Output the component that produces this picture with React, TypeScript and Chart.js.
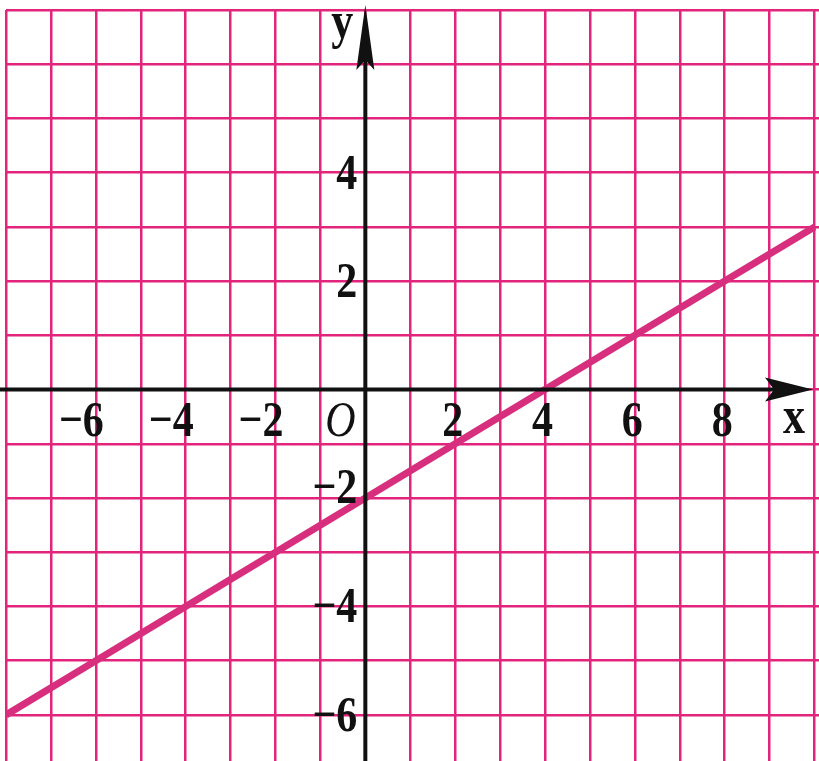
import React, { useEffect, useRef } from "react";
import { Chart, registerables } from "chart.js";

Chart.register(...registerables);

// Line data (x, y)
const lineX = [-8, -6, -4, -2, 0, 2, 4, 6, 8, 10];
const lineY = [-6, -5, -4, -3, -2, -1, 0, 1, 2, 3];

// Tick labels shown next to the axes
const xTickValues = [-6, -4, -2, 2, 4, 6, 8];
const yTickValues = [4, 2, -2, -4, -6];

// Axis ranges
const xRange = [-8, 10.1];
const yRange = [-6.85, 7];

const GRID = "rgb(226, 36, 124)";
const LINE = "rgb(216, 46, 126)";
const INK = "#111";

const fmt = (v: number) => (v < 0 ? "\u2212" + Math.abs(v) : String(v));

function drawText(ctx: CanvasRenderingContext2D, text: string, x: number, y: number, font: string, align: CanvasTextAlign) {
  ctx.save();
  ctx.translate(x, y);
  ctx.scale(1, 1.2);
  ctx.font = font;
  ctx.textAlign = align;
  ctx.textBaseline = "middle";
  ctx.fillStyle = INK;
  ctx.fillText(text, 0, 0);
  ctx.restore();
}

const axesPlugin = {
  id: "axesPlugin",
  afterDatasetsDraw(chart: any) {
    const ctx: CanvasRenderingContext2D = chart.ctx;
    const xs = chart.scales.x;
    const ys = chart.scales.y;
    const H = chart.height;
    const x0 = xs.getPixelForValue(0);
    const y0 = ys.getPixelForValue(0);

    ctx.save();
    ctx.strokeStyle = INK;
    ctx.fillStyle = INK;
    ctx.lineWidth = 4;
    ctx.lineCap = "butt";
    // x axis
    ctx.beginPath();
    ctx.moveTo(0, y0);
    ctx.lineTo(790, y0);
    ctx.stroke();
    // y axis
    ctx.beginPath();
    ctx.moveTo(x0, H);
    ctx.lineTo(x0, 30);
    ctx.stroke();

    // y arrow head
    ctx.beginPath();
    ctx.moveTo(x0, 5);
    ctx.lineTo(x0 + 9, 70);
    ctx.lineTo(x0, 60);
    ctx.lineTo(x0 - 9, 70);
    ctx.closePath();
    ctx.fill();

    // x arrow head
    ctx.beginPath();
    ctx.moveTo(813, y0);
    ctx.lineTo(765, y0 - 12);
    ctx.lineTo(774, y0);
    ctx.lineTo(765, y0 + 12);
    ctx.closePath();
    ctx.fill();
    ctx.restore();

    const numFont = "bold 42px 'Liberation Serif', 'DejaVu Serif', serif";
    // x tick labels
    xTickValues.forEach((v) => {
      const px = xs.getPixelForValue(v);
      drawText(ctx, fmt(v), px + 8, y0 + 33, numFont, "right");
    });
    // y tick labels
    yTickValues.forEach((v) => {
      const py = ys.getPixelForValue(v);
      drawText(ctx, fmt(v), x0 - 8, py + (v === -2 ? -8 : 3), numFont, "right");
    });
    // origin
    drawText(ctx, "O", x0 - 25, y0 + 33, "italic 42px 'Liberation Serif', 'DejaVu Serif', serif", "center");
    // axis names
    drawText(ctx, "x", 794, y0 + 30, "bold 44px 'Liberation Serif', 'DejaVu Serif', serif", "center");
    drawText(ctx, "y", x0 - 23, 24, "bold 44px 'Liberation Serif', 'DejaVu Serif', serif", "center");
  },
};

export default function App() {
  const ref = useRef<HTMLCanvasElement | null>(null);

  useEffect(() => {
    document.body.style.margin = "0";
    const canvas = ref.current;
    if (!canvas) return;
    const points = lineX.map((x, i) => ({ x, y: lineY[i] }));
    const chart = new Chart(canvas, {
      type: "scatter",
      data: {
        datasets: [
          {
            data: points,
            showLine: true,
            borderColor: LINE,
            borderWidth: 7,
            pointRadius: 0,
            fill: false,
          },
        ],
      },
      options: {
        animation: false,
        responsive: false,
        devicePixelRatio: 1,
        layout: { padding: { left: 6, top: 10, right: 0, bottom: 0 } },
        plugins: { legend: { display: false }, tooltip: { enabled: false } },
        scales: {
          x: {
            type: "linear",
            min: xRange[0],
            max: xRange[1],
            ticks: { display: false, stepSize: 1, maxTicksLimit: 100, includeBounds: false },
            grid: { color: GRID, lineWidth: 2.5, drawTicks: false },
            border: { display: false },
          },
          y: {
            type: "linear",
            min: yRange[0],
            max: yRange[1],
            ticks: { display: false, stepSize: 1, maxTicksLimit: 100, includeBounds: false },
            grid: { color: GRID, lineWidth: 2.5, drawTicks: false },
            border: { display: false },
          },
        },
      },
      plugins: [axesPlugin],
    });
    return () => chart.destroy();
  }, []);

  return (
    <div style={{ width: 819, height: 761, background: "#fff" }}>
      <canvas ref={ref} width={819} height={761} style={{ display: "block" }} />
    </div>
  );
}
